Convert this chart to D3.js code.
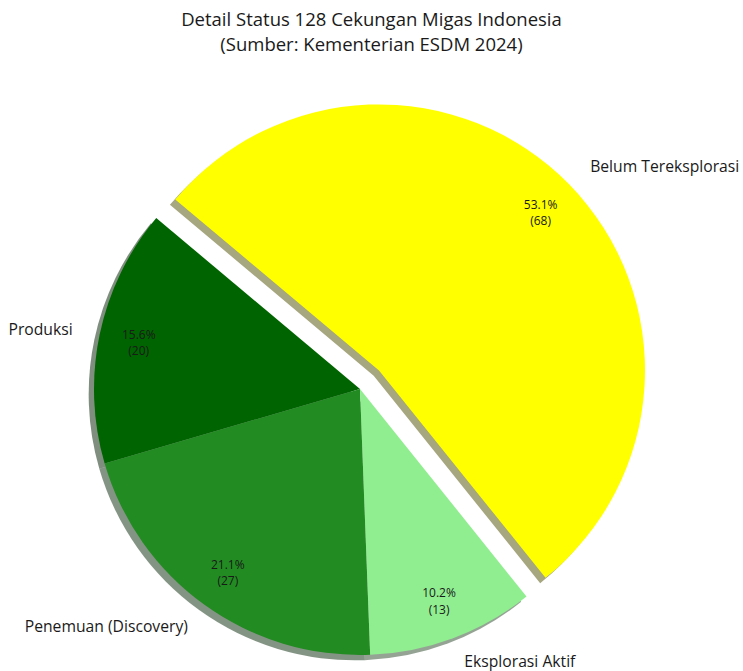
<!DOCTYPE html>
<html>
<head>
<meta charset="utf-8">
<script src="https://cdn.jsdelivr.net/npm/d3@7"></script>
<style>
  html, body { margin: 0; padding: 0; background: #fff; }
  svg { display: block; }
  text { font-family: "Open Sans", Roboto, sans-serif; fill: #1a1a1a; }
</style>
</head>
<body>
<svg id="chart" width="743" height="671"></svg>
<script>
// ---- data ----
const categories = ["Produksi", "Penemuan (Discovery)", "Eksplorasi Aktif", "Belum Tereksplorasi"];
const values = [20, 27, 13, 68];
const colors = ["#006400", "#228B22", "#90EE90", "#FFFF00"];
const explode = [0, 0, 0, 0.1];
const titleLines = ["Detail Status 128 Cekungan Migas Indonesia", "(Sumber: Kementerian ESDM 2024)"];

// ---- layout ----
const W = 743, H = 671;
const cx = 360, cy = 389, R = 266;
const startDeg = 140; // matplotlib startangle, counter-clockwise
const svg = d3.select("#chart");

const total = d3.sum(values);
const toRad = d => d * Math.PI / 180;
const a0 = toRad(90 - startDeg);
const pie = d3.pie().sort(null).value(d => d).startAngle(a0).endAngle(a0 - 2 * Math.PI);
const arcs = pie(values);
const arc = d3.arc().innerRadius(0).outerRadius(R);

const mid = d => (d.startAngle + d.endAngle) / 2;
const polar = (a, r) => [r * Math.sin(a), -r * Math.cos(a)];

arcs.forEach((d, i) => {
  const [ox, oy] = polar(mid(d), explode[i] * R);
  d.cx = cx + ox; d.cy = cy + oy; d.i = i;
});

const shade = c => { const k = d3.rgb(c); return d3.rgb(k.r * 0.3, k.g * 0.3, k.b * 0.3).toString(); };
const so = 0.02 * R;

// shadows
svg.append("g").selectAll("path").data(arcs).join("path")
  .attr("d", arc)
  .attr("transform", d => `translate(${d.cx - so},${d.cy + so})`)
  .attr("fill", d => shade(colors[d.i]))
  .attr("fill-opacity", 0.5);

// wedges
svg.append("g").selectAll("path").data(arcs).join("path")
  .attr("d", arc)
  .attr("transform", d => `translate(${d.cx},${d.cy})`)
  .attr("fill", d => colors[d.i]);

// percentage labels (two lines each)
const pctG = svg.append("g").selectAll("g").data(arcs).join("g")
  .attr("transform", d => { const [x, y] = polar(mid(d), 0.85 * R); return `translate(${d.cx + x},${d.cy + y})`; });
pctG.append("text").attr("x", 0).attr("y", -8.2)
  .attr("text-anchor", "middle").attr("dominant-baseline", "central")
  .style("font-size", "12px")
  .text(d => (100 * d.value / total).toFixed(1) + "%");
pctG.append("text").attr("x", 0).attr("y", 8.2)
  .attr("text-anchor", "middle").attr("dominant-baseline", "central")
  .style("font-size", "12px")
  .text(d => `(${d.value})`);

// category labels
svg.append("g").selectAll("text").data(arcs).join("text")
  .each(function(d) {
    const [x, y] = polar(mid(d), 1.1 * R);
    d3.select(this)
      .attr("x", d.cx + x + (x > 0 ? 2 : -1)).attr("y", Math.min(d.cy + y, H - 10))
      .attr("text-anchor", x > 0 ? "start" : "end")
      .attr("dominant-baseline", "central");
  })
  .style("font-size", "15.7px")
  .text(d => categories[d.i]);

// title
svg.append("g").selectAll("text").data(titleLines).join("text")
  .attr("x", W / 2).attr("y", (d, i) => 18 + i * 25.5)
  .attr("text-anchor", "middle").attr("dominant-baseline", "central")
  .style("font-size", "18.5px")
  .text(d => d);
</script>
</body>
</html>
